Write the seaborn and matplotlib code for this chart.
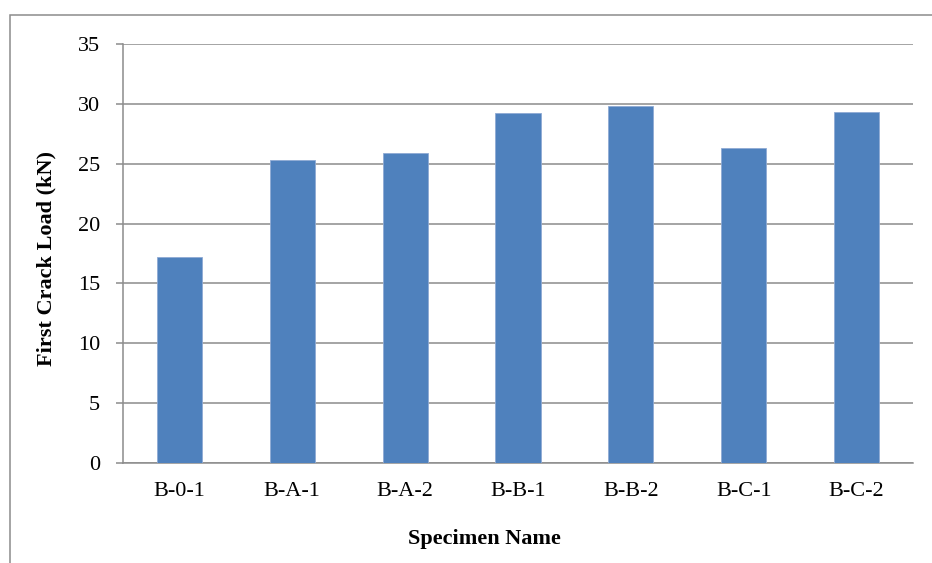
import matplotlib
matplotlib.use("Agg")
import matplotlib.pyplot as plt
import seaborn as sns
import pandas as pd
from matplotlib.patches import Rectangle

specimens = ["B-0-1", "B-A-1", "B-A-2", "B-B-1", "B-B-2", "B-C-1", "B-C-2"]
first_crack_load = [17.2, 25.3, 25.9, 29.2, 29.8, 26.3, 29.3]
y_ticks = [0, 5, 10, 15, 20, 25, 30, 35]

sns.set_theme(style="white")
plt.rcParams['font.family'] = ['Liberation Serif', 'DejaVu Serif']

W, H = 932, 563
fig = plt.figure(figsize=(W / 100, H / 100), dpi=100)
ax = fig.add_axes([123 / W, 1 - 463 / H, (913 - 123) / W, (463 - 44) / H])

df = pd.DataFrame({"Specimen": specimens, "Load": first_crack_load})
sns.barplot(data=df, x="Specimen", y="Load", color="#4F81BD", width=0.4,
            edgecolor="#8FAAD4", linewidth=0.6, saturation=1, ax=ax, zorder=3)

grid_c = "#8C8C8C"
lw = 1.1
ax.set_ylim(0, 35)
ax.set_xlim(-0.5, len(specimens) - 0.5)
ax.set_yticks(y_ticks)
ax.set_yticklabels([str(v) for v in y_ticks], fontsize=16, color="black")
ax.yaxis.grid(True, color=grid_c, linewidth=lw, zorder=0)
ax.set_axisbelow(True)

ax.set_xticks(range(len(specimens)))
ax.set_xticklabels(specimens, fontsize=16, color="black")
ax.set_xticks([i - 0.5 for i in range(len(specimens) + 1)], minor=True)
ax.tick_params(axis="x", which="major", length=0, pad=14)
ax.tick_params(axis="x", which="minor", length=5, width=lw, color=grid_c, direction="out")
ax.tick_params(axis="y", which="major", length=5, width=lw, color=grid_c, direction="out", pad=11.5, left=True)

for s in ["top", "right"]:
    ax.spines[s].set_visible(False)
for s in ["left", "bottom"]:
    ax.spines[s].set_color(grid_c)
    ax.spines[s].set_linewidth(lw)

ax.set_xlabel("")
ax.set_ylabel("")
fig.text(46 / W, 1 - 258.5 / H, "First Crack Load (kN)", rotation=90, fontsize=16,
         fontweight="bold", ha="center", va="center", color="black")
fig.text(484 / W, 1 - 539 / H, "Specimen Name", fontsize=16, fontweight="bold",
         ha="center", va="center", color="black")

fig.patches.append(Rectangle((9.5 / W, -0.2), 1.5, 1 - 15 / H + 0.2, transform=fig.transFigure,
                             fill=False, edgecolor="#8C8C8C", linewidth=lw))

fig.savefig("out.png", dpi=100)
